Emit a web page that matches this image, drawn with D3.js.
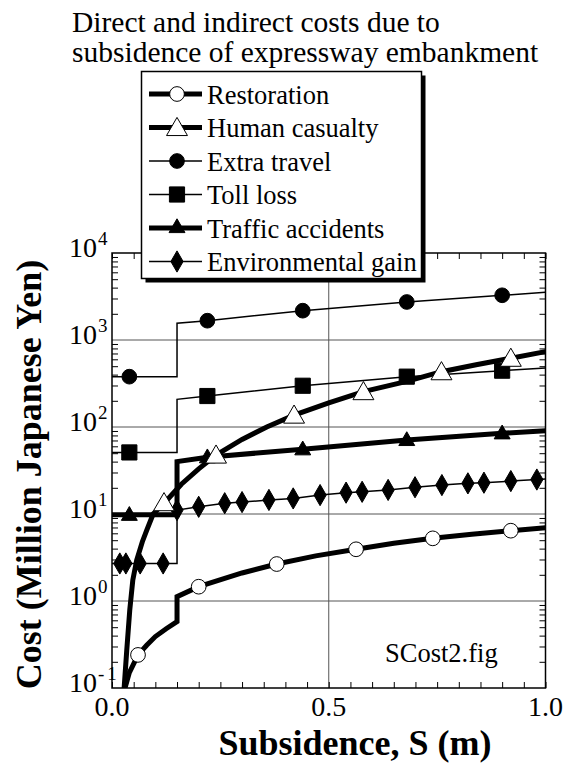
<!DOCTYPE html>
<html>
<head>
<meta charset="utf-8">
<script src="https://cdn.jsdelivr.net/npm/d3@7"></script>
<style>
  html, body { margin: 0; padding: 0; background: #fff; }
  svg { display: block; }
</style>
</head>
<body>
<svg id="chart" width="570" height="764"></svg>
<script>
// ---------------- data ----------------
const titleLines = ["Direct and indirect costs due to", "subsidence of expressway embankment"];
const xLabel = "Subsidence, S (m)";
const yLabel = "Cost (Million Japanese Yen)";
const xTickLabels = ["0.0", "0.5", "1.0"];
const xTickValues = [0, 0.5, 1.0];
const yDecadeExponents = [-1, 0, 1, 2, 3, 4];
const seriesNames = ["Restoration", "Human casualty", "Extra travel", "Toll loss", "Traffic accidents", "Environmental gain"];
const note = "SCost2.fig";

// line paths [S, cost]
const restorationLine = [[0.026,0.08],[0.03,0.1],[0.04,0.15],[0.06,0.24],[0.08,0.31],[0.10,0.39],[0.125,0.48],[0.15,0.58],[0.15,1.12],[0.2,1.46],[0.3,2.1],[0.38,2.66],[0.47,3.3],[0.563,3.93],[0.65,4.6],[0.74,5.25],[0.83,5.85],[0.92,6.43],[1.0,6.97]];
const restorationMarks = [[0.06,0.24],[0.2,1.46],[0.38,2.66],[0.563,3.93],[0.74,5.25],[0.92,6.43]];

const casualtyLine = [[0.026,0.07],[0.028,0.1],[0.034,0.27],[0.041,0.79],[0.048,1.74],[0.057,2.95],[0.07,4.8],[0.08,6.5],[0.095,10],[0.127,14.5],[0.16,22],[0.2,33],[0.24,47.6],[0.3,72],[0.357,100],[0.42,137],[0.5,189],[0.58,255],[0.68,335],[0.76,432],[0.84,520],[0.92,617],[1.0,735]];
const casualtyMarks = [[0.12,13.5],[0.24,47.6],[0.42,137],[0.58,255],[0.76,432],[0.92,617]];

const travelLine = [[0,379],[0.15,379],[0.15,1556],[0.22,1667],[0.44,2173],[0.68,2735],[0.90,3266],[1.0,3535]];
const travelMarks = [[0.04,379],[0.22,1667],[0.44,2173],[0.68,2735],[0.90,3266]];

const tollLine = [[0,51],[0.15,51],[0.15,208],[0.22,227],[0.44,298],[0.68,379],[0.90,444],[1.0,477]];
const tollMarks = [[0.04,51],[0.22,227],[0.44,298],[0.68,379],[0.90,444]];

const accidentLine = [[0,9.8],[0.15,9.8],[0.15,40],[0.22,45],[0.44,55.5],[0.68,71],[0.90,84.7],[1.0,90.6]];
const accidentMarks = [[0.04,9.8],[0.22,45],[0.44,55.5],[0.68,71],[0.90,84.7]];

const envLine = [[0,2.7],[0.15,2.7],[0.15,11.1],[0.2,12.1],[0.26,13.3],[0.30,13.7],[0.362,14.5],[0.418,15.1],[0.48,16.5],[0.54,17.6],[0.577,18.0],[0.637,18.9],[0.699,20.3],[0.761,21.5],[0.821,22.5],[0.858,22.9],[0.92,23.9],[0.98,24.9],[1.0,25.3]];
const envMarks = [[0.018,2.7],[0.032,2.7],[0.065,2.7],[0.118,2.7],[0.15,11.1],[0.2,12.1],[0.26,13.3],[0.30,13.7],[0.362,14.5],[0.418,15.1],[0.48,16.5],[0.54,17.6],[0.577,18.0],[0.637,18.9],[0.699,20.3],[0.761,21.5],[0.821,22.5],[0.858,22.9],[0.92,23.9],[0.98,24.9]];

// ---------------- layout ----------------
const plot = { left: 112, right: 545.5, top: 253, bottom: 688 };
const svg = d3.select("#chart");
const x = d3.scaleLinear().domain([0, 1]).range([plot.left, plot.right]);
const y = d3.scaleLog().domain([0.1, 10000]).range([plot.bottom, plot.top]);

const THICK = 5, THIN = 1.5;
const FONT = "Liberation Serif";

svg.append("defs").append("clipPath").attr("id", "clip")
  .append("rect").attr("x", plot.left).attr("y", plot.top)
  .attr("width", plot.right - plot.left).attr("height", plot.bottom - plot.top);

function txt(sel) { return sel.attr("font-family", FONT).attr("fill", "#000"); }

// title
txt(svg.append("text")).attr("x", 72).attr("y", 32).attr("font-size", 29.5).text(titleLines[0]);
txt(svg.append("text")).attr("x", 72).attr("y", 62).attr("font-size", 29.5).text(titleLines[1]);

// grid lines
const grid = svg.append("g").attr("stroke", "#555").attr("stroke-width", 1);
[1, 10, 100, 1000].forEach(v => {
  grid.append("line").attr("x1", plot.left).attr("x2", plot.right).attr("y1", y(v)).attr("y2", y(v));
});
grid.append("line").attr("x1", x(0.5)).attr("x2", x(0.5)).attr("y1", plot.top).attr("y2", plot.bottom);

// minor ticks via axes
const minorY = [];
for (let e = -1; e < 4; e++) for (let m = 2; m <= 9; m++) minorY.push(m * Math.pow(10, e));
const xTicksAll = d3.range(0, 21).map(i => i * 0.05);

function styleAxis(g) {
  g.select(".domain").remove();
  g.selectAll(".tick line").attr("stroke", "#000").attr("stroke-width", 1);
  g.selectAll(".tick text").remove();
}
svg.append("g").attr("transform", `translate(${plot.left},0)`)
  .call(d3.axisRight(y).tickValues(minorY).tickSize(6)).call(styleAxis);
svg.append("g").attr("transform", `translate(${plot.right},0)`)
  .call(d3.axisLeft(y).tickValues(minorY).tickSize(6)).call(styleAxis);
svg.append("g").attr("transform", `translate(0,${plot.bottom})`)
  .call(d3.axisTop(x).tickValues(xTicksAll).tickSize(6)).call(styleAxis);
svg.append("g").attr("transform", `translate(0,${plot.top})`)
  .call(d3.axisBottom(x).tickValues(xTicksAll).tickSize(6)).call(styleAxis);

// frame
svg.append("rect").attr("x", plot.left).attr("y", plot.top)
  .attr("width", plot.right - plot.left).attr("height", plot.bottom - plot.top)
  .attr("fill", "none").attr("stroke", "#000").attr("stroke-width", 1.5);

// tick labels
xTickValues.forEach((v, i) => {
  txt(svg.append("text")).attr("x", x(v)).attr("y", 716).attr("text-anchor", "middle")
    .attr("font-size", 28).text(xTickLabels[i]);
});
yDecadeExponents.forEach(e => {
  const yy = y(Math.pow(10, e));
  txt(svg.append("text")).attr("x", 97).attr("y", yy + 4).attr("text-anchor", "end")
    .attr("font-size", 28).text("10");
  const s = txt(svg.append("text")).attr("x", 98).attr("y", yy - 8).attr("font-size", 19);
  if (e < 0) {
    s.append("tspan").text("-");
    s.append("tspan").attr("dx", 3).text(String(-e));
  } else {
    s.text(String(e));
  }
});

// axis titles
txt(svg.append("text")).attr("x", 355).attr("y", 755).attr("text-anchor", "middle")
  .attr("font-size", 36).attr("font-weight", "bold").text(xLabel);
txt(svg.append("text")).attr("transform", `translate(41,${(plot.top + plot.bottom) / 2 + 4}) rotate(-90)`)
  .attr("text-anchor", "middle").attr("font-size", 36).attr("font-weight", "bold").text(yLabel);

// note
txt(svg.append("text")).attr("x", 385).attr("y", 662).attr("font-size", 26.5).text(note);

// ---------------- series ----------------
const line = d3.line().x(d => x(d[0])).y(d => y(d[1]));
const series = svg.append("g").attr("clip-path", "url(#clip)");
const lineDefs = [
  [travelLine, THIN], [tollLine, THIN], [envLine, THIN],
  [accidentLine, THICK], [restorationLine, THICK], [casualtyLine, THICK]
];
lineDefs.forEach(([data, w]) => {
  series.append("path").datum(data).attr("d", line).attr("fill", "none")
    .attr("stroke", "#000").attr("stroke-width", w).attr("stroke-linejoin", "miter");
});

const sym = {
  circle: d3.symbol().type(d3.symbolCircle).size(170),
  square: d3.symbol().type(d3.symbolSquare).size(230),
  triangle: d3.symbol().type(d3.symbolTriangle).size(190),
  smallTriangle: d3.symbol().type(d3.symbolTriangle).size(110),
  diamond: d3.symbol().type(d3.symbolDiamond).size(130)
};
const styles = {
  "Restoration": { s: sym.circle, fill: "#fff", lw: THICK },
  "Human casualty": { s: sym.triangle, fill: "#fff", lw: THICK },
  "Extra travel": { s: sym.circle, fill: "#000", lw: THIN },
  "Toll loss": { s: sym.square, fill: "#000", lw: THIN },
  "Traffic accidents": { s: sym.smallTriangle, fill: "#000", lw: THICK },
  "Environmental gain": { s: sym.diamond, fill: "#000", lw: THIN }
};
function drawMarks(data, name, dy) {
  const st = styles[name];
  series.selectAll(null).data(data).enter().append("path")
    .attr("d", st.s)
    .attr("transform", d => `translate(${x(d[0])},${y(d[1]) + (dy || 0)})`)
    .attr("fill", st.fill).attr("stroke", "#000").attr("stroke-width", 1);
}
drawMarks(restorationMarks, "Restoration");
drawMarks(accidentMarks, "Traffic accidents", 1);
drawMarks(envMarks, "Environmental gain");
drawMarks(travelMarks, "Extra travel");
drawMarks(tollMarks, "Toll loss");
drawMarks(casualtyMarks, "Human casualty", 2);

// ---------------- legend ----------------
const lg = { x: 141.5, y: 71.5, w: 280, h: 207, shadow: 4 };
svg.append("rect").attr("x", lg.x + lg.shadow).attr("y", lg.y + lg.shadow)
  .attr("width", lg.w).attr("height", lg.h).attr("fill", "#000");
svg.append("rect").attr("x", lg.x).attr("y", lg.y).attr("width", lg.w).attr("height", lg.h)
  .attr("fill", "#fff").attr("stroke", "#000").attr("stroke-width", 1.5);
const rowY = d3.scaleLinear().domain([0, 5]).range([94, 261.5]);
seriesNames.forEach((name, i) => {
  const st = styles[name];
  const cy = rowY(i);
  svg.append("line").attr("x1", 149).attr("x2", 202).attr("y1", cy).attr("y2", cy)
    .attr("stroke", "#000").attr("stroke-width", st.lw);
  svg.append("path").attr("d", st.s).attr("transform", `translate(177,${cy + (name === "Human casualty" ? 2 : 0)})`)
    .attr("fill", st.fill).attr("stroke", "#000").attr("stroke-width", 1);
  txt(svg.append("text")).attr("x", 207).attr("y", cy + 9.5).attr("font-size", 26.5).text(name);
});
</script>
</body>
</html>
